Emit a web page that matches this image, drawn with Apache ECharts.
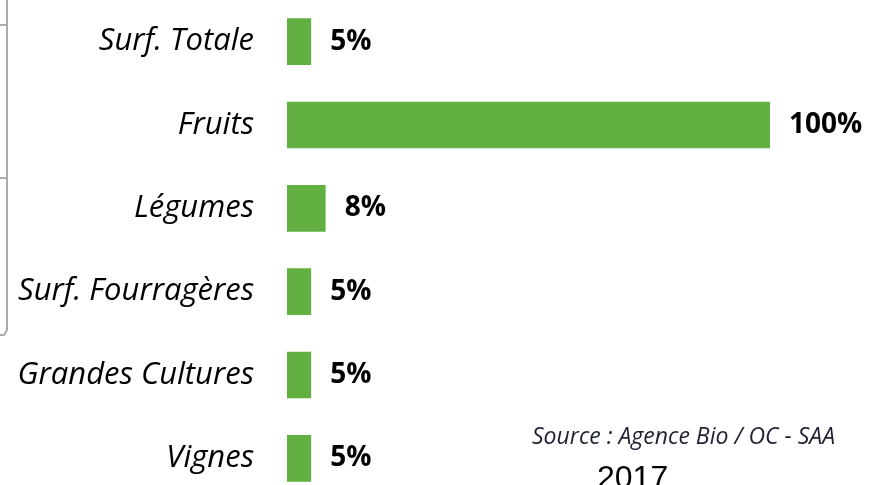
<!DOCTYPE html>
<html>
<head>
<meta charset="utf-8">
<script src="https://cdn.jsdelivr.net/npm/echarts@6/dist/echarts.min.js"></script>
<style>
  html, body { margin: 0; padding: 0; background: #fff; }
  #chart { width: 870px; height: 485px; }
</style>
</head>
<body>
<div id="chart"></div>
<script>
// categories, top to bottom as drawn
var categories = ['Surf. Totale', 'Fruits', 'Légumes', 'Surf. Fourragères', 'Grandes Cultures', 'Vignes'];
var shares = [5, 100, 8, 5, 5, 5];
var sourceText = 'Source : Agence Bio / OC - SAA';
var yearText = '2017';

var chart = echarts.init(document.getElementById('chart'));

var option = {
  animation: false,
  grid: { left: 287, width: 483, top: 0, height: 500, outerBoundsMode: 'none' },
  xAxis: {
    type: 'value', min: 0, max: 100, show: false
  },
  yAxis: {
    type: 'category',
    inverse: true,
    data: categories,
    axisLine: { show: false },
    axisTick: { show: false },
    axisLabel: {
      margin: 33,
      fontFamily: 'Open Sans',
      fontStyle: 'italic',
      fontSize: 31,
      color: '#000'
    }
  },
  series: [{
    type: 'bar',
    data: shares,
    barCategoryGap: '44%',
    itemStyle: { color: '#62B041' },
    label: {
      show: true,
      position: 'right',
      distance: 19,
      formatter: '{c}%',
      fontFamily: 'Open Sans',
      fontWeight: 'bold',
      fontSize: 28,
      color: '#000'
    }
  }],
  graphic: [
    {
      type: 'polyline',
      shape: { points: [[7, 0], [7, 330], [4, 335], [0, 335]] },
      style: { stroke: '#aaaaaa', lineWidth: 2, fill: null }
    },
    { type: 'line', shape: { x1: 0, y1: 25, x2: 7, y2: 25 }, style: { stroke: '#aaaaaa', lineWidth: 2 } },
    { type: 'line', shape: { x1: 0, y1: 178, x2: 7, y2: 178 }, style: { stroke: '#aaaaaa', lineWidth: 2 } },
    {
      type: 'text', left: 532, top: 426,
      style: { text: sourceText, font: 'italic 23px "Open Sans"', fill: '#1f2233' }
    },
    {
      type: 'text', left: 597, top: 463,
      style: { text: yearText, font: '32px "Liberation Sans"', fill: '#000' }
    }
  ]
};

chart.setOption(option);
</script>
</body>
</html>
